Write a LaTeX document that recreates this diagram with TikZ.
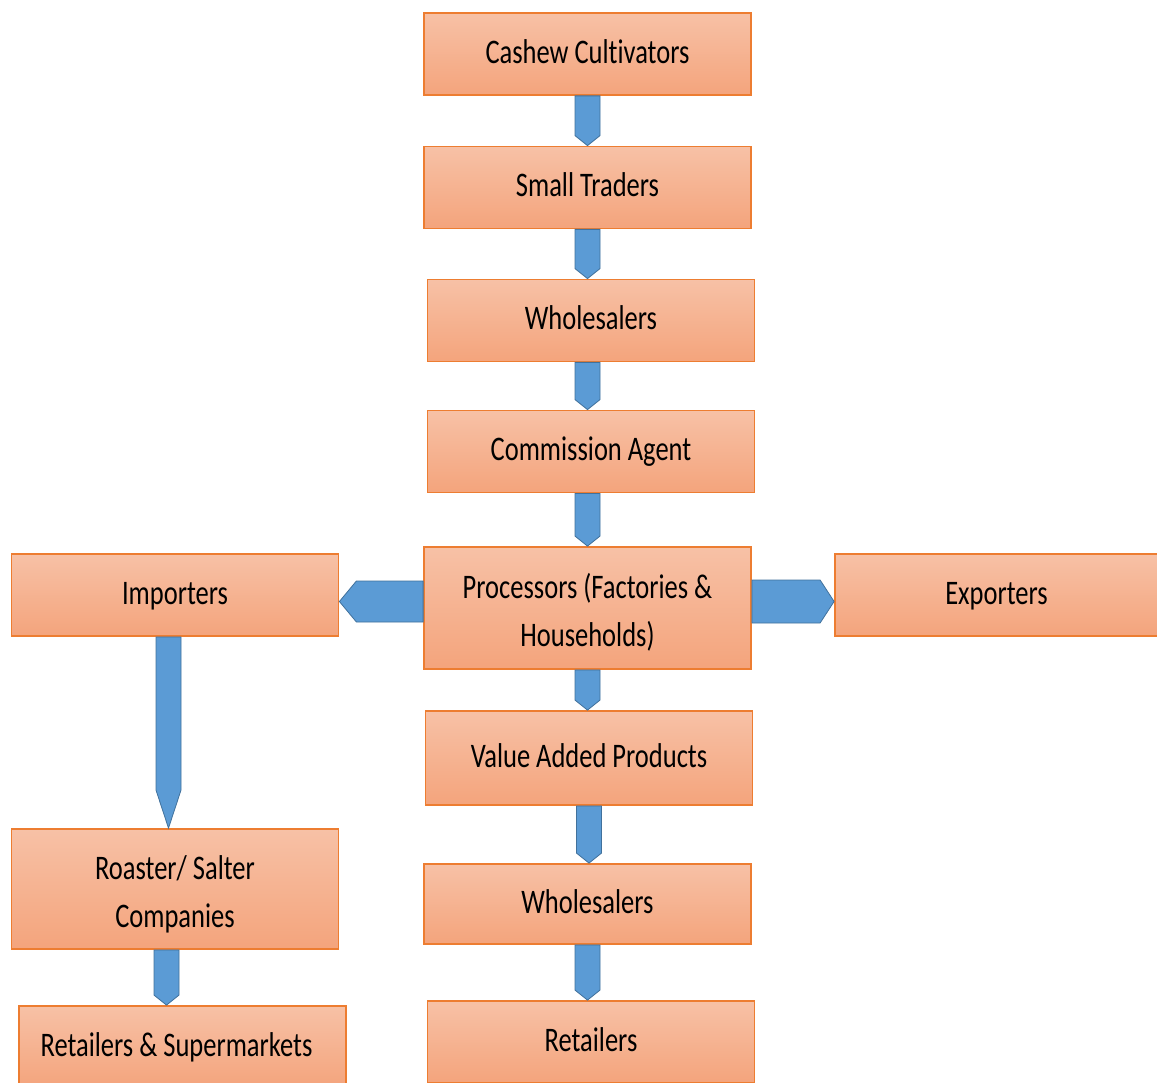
\documentclass[tikz,border=0pt]{standalone}
\usepackage{fontspec}
\setmainfont[Ligatures=NoCommon]{Carlito}
\usetikzlibrary{calc}
\definecolor{boxline}{RGB}{237,125,49}
\definecolor{boxtop}{RGB}{247,193,166}
\definecolor{boxbot}{RGB}{244,164,124}
\definecolor{flowfill}{RGB}{91,155,213}
\definecolor{flowline}{RGB}{65,113,156}
\newcommand{\tall}[1]{\scalebox{1}[1.3]{\begin{tabular}{@{}c@{}}#1\end{tabular}}}
\newcommand{\dropdown}[1]{\raisebox{-5pt}[\height][\depth]{#1}}
% block arrow pointing down, #1 = tip length
\newcommand{\downflow}[3][10]{%
  \filldraw[flow] ($(#2)+(-12.5,0)$) -- ($(#2 |- #3)+(-12.5,-#1)$)
    -- (#2 |- #3) -- ($(#2 |- #3)+(12.5,-#1)$)
    -- ($(#2)+(12.5,0)$) -- cycle;}

\begin{document}
\begin{tikzpicture}[x=1pt,y=-1pt,
    box/.style={draw=boxline,line width=1.8pt,top color=boxtop,bottom color=boxbot,
      minimum width=327pt,minimum height=82pt,inner sep=0pt,
      font=\fontsize{26.5}{36.5}\selectfont},
    flow/.style={fill=flowfill,draw=flowline,line width=0.8pt,line join=miter}]
  \useasboundingbox (0,0) rectangle (1157,1083);

  \node [box] (cult) at (587.5,54) {\tall{Cashew Cultivators}};
  \node [box] (small) at (587.5,187.5) {\tall{Small Traders}};
  \node [box] (whole) at (591,320.5) {\tall{Wholesalers}};
  \node [box] (agent) at (591,451.5) {\tall{Commission Agent}};
  \node [box,minimum height=122pt] (proc) at (587.5,608) {\dropdown{\tall{Processors (Factories \&\\Households)}}};
  \node [box] (imp) at (175,595) {\tall{Importers}};
  \node [box,minimum width=323pt] (exp) at (996.5,595) {\tall{Exporters}};
  \node [box,minimum height=94pt] (value) at (589,758) {\tall{Value Added Products}};
  \node [box,minimum height=80pt] (whole2) at (587.5,904) {\tall{Wholesalers}};
  \node [box] (retail) at (591,1042) {\tall{Retailers}};
  \node [box,minimum height=120pt] (roast) at (175,889) {\dropdown{\tall{Roaster/ Salter\\Companies}}};
  \node [box] (super) at (182.5,1047) {\tall{Retailers \& Supermarkets\kern12pt}};

  \coordinate (impfoot) at ($(imp.south)+(-6.5,0)$);
  \coordinate (roastfoot) at ($(roast.south)+(-8.5,0)$);
  \coordinate (wholefoot) at ($(whole.south)+(-3.5,0)$);
  \coordinate (agentfoot) at ($(agent.south)+(-3.5,0)$);

  \downflow{cult.south}{small.north}
  \downflow{small.south}{whole.north}
  \downflow{wholefoot}{agent.north}
  \downflow{agentfoot}{proc.north}
  \downflow{proc.south}{value.north}
  \downflow{value.south}{whole2.north}
  \downflow{whole2.south}{retail.north}
  \downflow[38]{impfoot}{roast.north}
  \downflow{roastfoot}{super.north}

  \coordinate (lmid) at ($(proc.west)!.5!(imp.east)$);
  \filldraw[flow] ($(proc.west |- lmid)+(0,-20.5)$) -- ($(imp.east |- lmid)+(17,-20.5)$)
    -- (imp.east |- lmid) -- ($(imp.east |- lmid)+(17,20.5)$)
    -- ($(proc.west |- lmid)+(0,20.5)$) -- cycle;
  \coordinate (rmid) at ($(proc.east)!.5!(exp.west)$);
  \filldraw[flow] ($(proc.east |- rmid)+(0,-21.5)$) -- ($(exp.west |- rmid)+(-14,-21.5)$)
    -- (exp.west |- rmid) -- ($(exp.west |- rmid)+(-14,21.5)$)
    -- ($(proc.east |- rmid)+(0,21.5)$) -- cycle;
\end{tikzpicture}
\end{document}
